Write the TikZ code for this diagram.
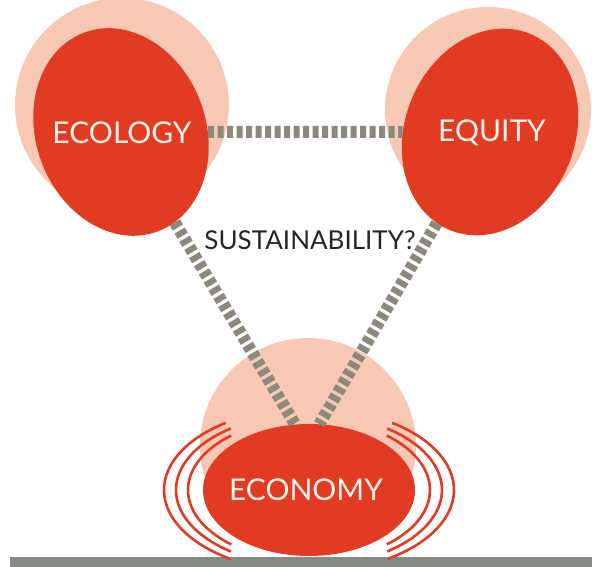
\documentclass[tikz,border=0pt]{standalone}
\usepackage{fontspec}
\setmainfont{Lato}
\usepackage{tikz}
\usetikzlibrary{shapes.geometric}
\definecolor{blobred}{HTML}{E23B23}
\definecolor{halopink}{HTML}{F7C9B5}
\definecolor{linkgray}{HTML}{8C897B}
\definecolor{groundgray}{HTML}{858A85}
\definecolor{wordwhite}{HTML}{FDF1EA}
\tikzset{
    halo/.style={
           circle,
           fill=halopink,
           inner sep=0pt,
           },
    blob/.style={
           ellipse,
           fill=blobred,
           inner sep=0pt,
           },
    word/.style={
           text=wordwhite,
           font=\fontsize{30}{34}\selectfont,
           },
    link/.style={
           draw=linkgray,
           line width=12pt,
           dash pattern=on 6pt off 3.5pt,
           },
    ripple/.style={
           draw=blobred,
           line width=2.6pt,
           },
}

\begin{document}
\begin{tikzpicture}[x=1pt,y=1pt]
    \useasboundingbox (0,0) rectangle (592,567);

    % ground bar
    \fill[groundgray] (10,0) rectangle (592,10);

    % pale discs behind the three circles
    \node[halo, minimum size=214pt] (ecologyhalo) at (122,462) {};
    \node[halo, minimum size=206pt] (equityhalo) at (488,457) {};
    \node[halo, minimum size=216pt] (economyhalo) at (308,121) {};

    % red ovals
    \node[blob,     	% layout (defined above)
    minimum width=170pt, minimum height=212pt,
    rotate=20] (ecology) 	% leaning to the left
    at (121,435) {};

    \node[blob,     	% layout (defined above)
    minimum width=170pt, minimum height=212pt,
    rotate=-22] (equity) 	% leaning to the right
    at (490,435) {};

    \node[blob,     	% layout (defined above)
    minimum width=212pt, minimum height=132pt] (economy)
    at (309,77) {};

    % names
    \node[word] (ecologytext) at (122,434) {ECOLOGY};
    \node[word] (equitytext) at (492,434) {EQUITY};
    \node[word] (economytext) at (306,77) {ECONOMY};
    \node[text=black!85, font=\fontsize{26}{30}\selectfont] (question)
        at (310,327) {SUSTAINABILITY?};

    % dotted links between the circles
    \path
        (ecology) edge[link] (equity)
        (ecology) edge[link] (economy.102)
        (equity)  edge[link] (economy.81)
        ;

    % rings round the economy
    \foreach \rx/\ry/\a/\b in {145/82/125/237, 133/76/126/234, 121/71/130/230} {
        \draw[ripple] (economy.center) ++(\a:{\rx} and {\ry})
            arc[start angle=\a, end angle=\b, x radius=\rx, y radius=\ry];
        \draw[ripple] (economy.center) ++(180-\a:{\rx} and {\ry})
            arc[start angle=180-\a, end angle=180-\b, x radius=\rx, y radius=\ry];
    }
\end{tikzpicture}
\end{document}
